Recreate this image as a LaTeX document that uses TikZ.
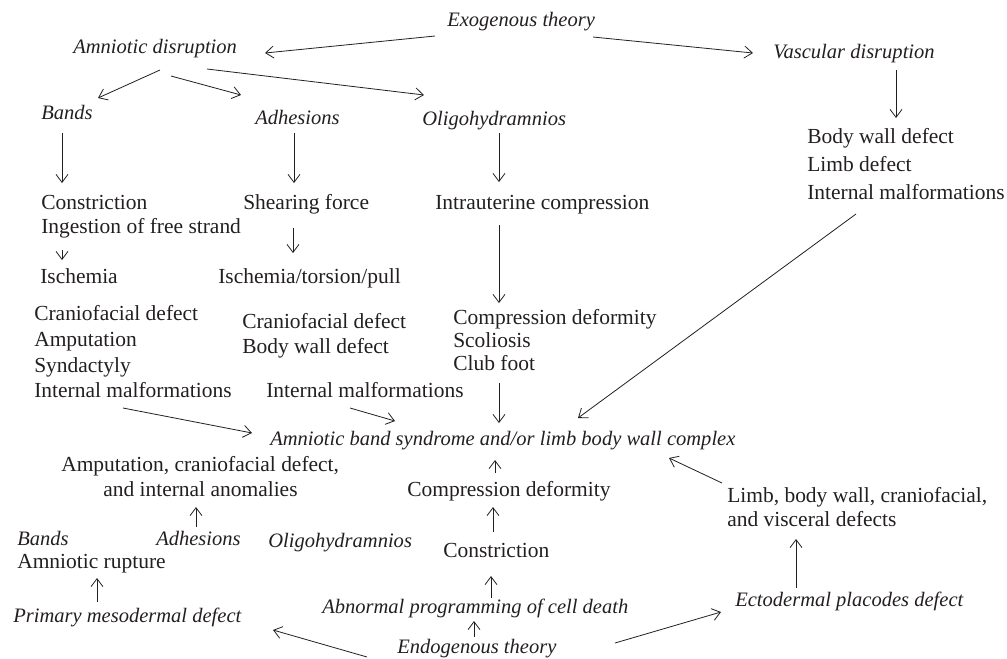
\documentclass[tikz,border=0pt]{standalone}
\usepackage{fontspec}
\setmainfont{Liberation Serif}
\usetikzlibrary{arrows.meta,calc}
\definecolor{ink}{RGB}{35,31,32}
\tikzset{
  txt/.style={inner sep=0pt, anchor=base west, text=ink, font=\fontsize{16.1}{19}\selectfont},
  itx/.style={txt, font=\fontsize{15.4}{19}\selectfont\itshape},
  arr/.style={draw=ink, line width=0.6pt, -{Straight Barb[length=6pt,width=9pt]}},
}
\newcommand{\rel}[3]{($(#1.base west)+(#2,#3)$)}
\begin{document}
\begin{tikzpicture}[x=0.75pt,y=-0.75pt]
\useasboundingbox (0,0) rectangle (1007,658);
% top
\node[itx] (exo) at (447,26) {Exogenous theory};
\node[itx] (amn) at (73,53) {Amniotic disruption};
\node[itx] (vasc) at (773,58) {Vascular disruption};
\node[itx] (bands) at (41,119) {Bands};
\node[itx] (adh) at (255,124) {Adhesions};
\node[itx] (oligo) at (422,125) {Oligohydramnios};
% vascular list
\node[txt] (vbody) at (807,143) {Body wall defect};
\node[txt] (vlimb) at (807,171) {Limb defect};
\node[txt] (vim) at (807,199) {Internal malformations};
% second row
\node[txt] (constr1) at (41,209) {Constriction};
\node[txt] (ingest) at (41,233) {Ingestion of free strand};
\node[txt] (isch) at (40,283) {Ischemia};
\node[txt] (shear) at (243,209) {Shearing force};
\node[txt] (istp) at (218,283) {Ischemia/torsion/pull};
\node[txt] (intra) at (435,209) {Intrauterine compression};
% left list
\node[txt] (lcran) at (34,320) {Craniofacial defect};
\node[txt] (lamp) at (34,346) {Amputation};
\node[txt] (lsyn) at (34,372) {Syndactyly};
\node[txt] (lim) at (34,397) {Internal malformations};
% middle list
\node[txt] (mcran) at (242,328) {Craniofacial defect};
\node[txt] (mbody) at (242,353) {Body wall defect};
\node[txt] (mim) at (266,397) {Internal malformations};
% compression list
\node[txt] (comp) at (453,324) {Compression deformity};
\node[txt] (scol) at (453,347) {Scoliosis};
\node[txt] (club) at (453,370) {Club foot};
% title
\node[itx] (title) at (270,445) {Amniotic band syndrome and/or limb body wall complex};
% lower left
\node[txt] (amp1) at (61,471) {Amputation, craniofacial defect,};
\node[txt] (amp2) at (103,496) {and internal anomalies};
\node[itx] (bands2) at (17,545) {Bands};
\node[itx] (adh2) at (156,545) {Adhesions};
\node[itx] (oligo2) at (268,547) {Oligohydramnios};
\node[txt] (rupt) at (17,568) {Amniotic rupture};
\node[itx] (prim) at (13,622) {Primary mesodermal defect};
% lower middle
\node[txt] (comp2) at (407,496) {Compression deformity};
\node[txt] (constr2) at (443,557) {Constriction};
\node[itx] (abn) at (322,613) {Abnormal programming of cell death};
\node[itx] (endo) at (397,653) {Endogenous theory};
% lower right
\node[txt] (limb1) at (727,502) {Limb, body wall, craniofacial,};
\node[txt] (limb2) at (727,526) {and visceral defects};
\node[itx] (ecto) at (735,606) {Ectodermal placodes defect};
% connectors
\draw[arr] \rel{exo}{-12}{10} -- \rel{amn}{192}{0};
\draw[arr] \rel{exo}{146}{11} -- \rel{vasc}{-20}{-5};
\draw[arr] \rel{amn}{87}{17} -- \rel{bands}{57}{-21};
\draw[arr] \rel{amn}{98}{23} -- \rel{adh}{-14}{-29};
\draw[arr] \rel{amn}{134}{16} -- \rel{oligo}{2}{-30};
\draw[arr] \rel{bands}{21}{14} -- \rel{constr1}{21}{-26};
\draw[arr] \rel{adh}{39}{9} -- \rel{shear}{51}{-26};
\draw[arr] \rel{oligo}{77}{8} -- \rel{intra}{64}{-27};
\draw[arr] \rel{vasc}{123}{12} -- \rel{vbody}{89}{-25};
\draw[arr] \rel{ingest}{21}{17} -- \rel{isch}{22}{-23};
\draw[arr] \rel{shear}{50}{19} -- \rel{istp}{75}{-30};
\draw[arr] \rel{intra}{64}{16} -- \rel{comp}{46}{-21};
\draw[arr] \rel{lim}{89}{11} -- \rel{title}{-18}{-12};
\draw[arr] \rel{mim}{84}{11} -- \rel{title}{125}{-24};
\draw[arr] \rel{club}{46}{13} -- \rel{title}{229}{-22};
\draw[arr] \rel{vim}{49}{15} -- \rel{title}{308}{-27};
\draw[arr] \rel{comp2}{88}{-23} -- \rel{title}{225}{15};
\draw[arr] \rel{constr2}{50}{-25} -- \rel{comp2}{86}{11};
\draw[arr] \rel{abn}{169}{-15} -- \rel{constr2}{48}{19};
\draw[arr] \rel{endo}{77}{-16} -- \rel{abn}{152}{8};
\draw[arr] \rel{endo}{218}{-10} -- \rel{ecto}{-14}{6};
\draw[arr] \rel{endo}{-30}{4} -- \rel{prim}{260}{8};
\draw[arr] \rel{limb1}{-5}{-19} -- \rel{title}{399}{13};
\draw[arr] \rel{ecto}{61}{-18} -- \rel{limb2}{69}{13};
\draw[arr] \rel{adh2}{40}{-18} -- \rel{amp2}{93}{11};
\draw[arr] \rel{prim}{84}{-20} -- \rel{rupt}{80}{10};
\end{tikzpicture}
\end{document}
